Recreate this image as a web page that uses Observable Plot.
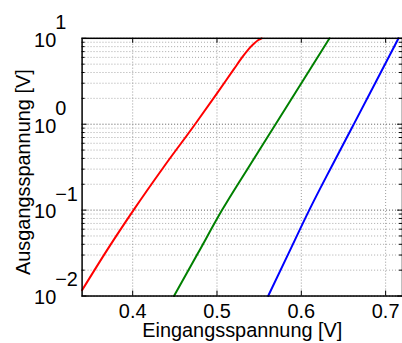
<!DOCTYPE html>
<html>
<head>
<meta charset="utf-8">
<script src="https://cdn.jsdelivr.net/npm/d3@7"></script>
<script src="https://cdn.jsdelivr.net/npm/@observablehq/plot@0.6"></script>
<style>
  html, body { margin: 0; padding: 0; background: #fff; overflow: hidden; }
  #chart { width: 402px; height: 343px; overflow: hidden; }
</style>
</head>
<body>
<div id="chart"></div>
<script>
// ---- data ----
const redX   = [0.340, 0.370, 0.401, 0.437, 0.474, 0.500, 0.520, 0.530, 0.538, 0.544, 0.549, 0.553];
const redY   = [0.0117, 0.0347, 0.1, 0.32, 1.0, 2.29, 4.37, 6.03, 7.59, 8.71, 9.55, 10];
const greenX = [0.449, 0.4775, 0.5060, 0.5375, 0.5695, 0.6015, 0.6335];
const greenY = [0.01, 0.0316, 0.1, 0.316, 1.0, 3.16, 10];
const blueX  = [0.5607, 0.5850, 0.6094, 0.6355, 0.6622, 0.6888, 0.7153];
const blueY  = [0.01, 0.0316, 0.1, 0.316, 1.0, 3.16, 10];

const xTicks = [0.4, 0.5, 0.6, 0.7];
const xTickLabels = ["0.4", "0.5", "0.6", "0.7"];
const yTicks = [0.01, 0.1, 1, 10];
const yBase = ["10", "10", "10", "10"];
const yExponents = ["\u22122", "\u22121", "0", "1"];
const xLabel = "Eingangsspannung [V]";
const yLabel = "Ausgangsspannung [V]";

// minor log ticks (2..9 in every decade)
const yMinor = [];
yTicks.slice(0, -1).forEach(d => { for (let k = 2; k <= 9; k++) yMinor.push(d * k); });

const toRows = (xs, ys) => xs.map((x, i) => ({x, y: ys[i]}));
const red = toRows(redX, redY), green = toRows(greenX, greenY), blue = toRows(blueX, blueY);

const W = 404, H = 343, ML = 82, MR = 0, MT = 38, MB = 46;
const fw = W - ML - MR, fh = H - MT - MB;
const font = "'Liberation Sans', Arial, Helvetica, sans-serif";

const chart = Plot.plot({
  width: W, height: H,
  marginLeft: ML, marginRight: MR, marginTop: MT, marginBottom: MB,
  style: {fontFamily: font, fontSize: "20px", background: "white", overflow: "visible"},
  x: {domain: [0.34, 0.72], axis: null},
  y: {type: "log", domain: [0.01, 10], axis: null},
  marks: [
    // grid
    Plot.gridY(yMinor, {stroke: "#a8a8a8", strokeOpacity: 1, strokeWidth: 1, strokeDasharray: "1,2"}),
    Plot.gridY(yTicks, {stroke: "#555", strokeOpacity: 1, strokeWidth: 1, strokeDasharray: "1,2"}),
    Plot.gridX(xTicks, {stroke: "#999", strokeOpacity: 1, strokeWidth: 1, strokeDasharray: "1,2"}),
    // curves
    Plot.line(red,   {x: "x", y: "y", stroke: "#ff0000", strokeWidth: 2, curve: "monotone-x"}),
    Plot.line(green, {x: "x", y: "y", stroke: "#008000", strokeWidth: 2, curve: "monotone-x"}),
    Plot.line(blue,  {x: "x", y: "y", stroke: "#0000ff", strokeWidth: 2, curve: "monotone-x"}),
    // inward ticks
    Plot.tickY(yTicks, {y: d => d, stroke: "black", strokeWidth: 1, insetRight: fw - 5}),
    Plot.tickY(yTicks, {y: d => d, stroke: "black", strokeWidth: 1, insetLeft: fw - 5}),
    Plot.tickY(yMinor, {y: d => d, stroke: "black", strokeWidth: 1, insetRight: fw - 3}),
    Plot.tickY(yMinor, {y: d => d, stroke: "black", strokeWidth: 1, insetLeft: fw - 3}),
    Plot.tickX(xTicks, {x: d => d, stroke: "black", strokeWidth: 1, insetTop: fh - 5}),
    Plot.tickX(xTicks, {x: d => d, stroke: "black", strokeWidth: 1, insetBottom: fh - 5}),
    // frame
    Plot.frame({stroke: "black", strokeWidth: 1.5}),
    // tick labels
    Plot.text(xTicks, {x: d => d, frameAnchor: "bottom", text: (d, i) => xTickLabels[i], textAnchor: "middle", lineAnchor: "middle", dy: 16, fontSize: 20, fill: "black"}),
    Plot.text(yTicks, {y: d => d, frameAnchor: "left", text: (d, i) => yBase[i], textAnchor: "end", lineAnchor: "middle", dx: -26, dy: 2, fontSize: 20, fill: "black"}),
    Plot.text(yTicks, {y: d => d, frameAnchor: "left", text: (d, i) => yExponents[i], textAnchor: "start", lineAnchor: "middle", dx: -27, dy: -16, fontSize: 20, fill: "black"}),
    // axis labels
    Plot.text([xLabel], {frameAnchor: "bottom", text: d => d, textAnchor: "middle", lineAnchor: "middle", dy: 35, fontSize: 20, fill: "black"}),
    Plot.text([yLabel], {frameAnchor: "left", text: d => d, rotate: -90, textAnchor: "middle", lineAnchor: "middle", dx: -59, dy: 5, fontSize: 20, fill: "black"})
  ]
});
document.getElementById("chart").appendChild(chart);
</script>
</body>
</html>
